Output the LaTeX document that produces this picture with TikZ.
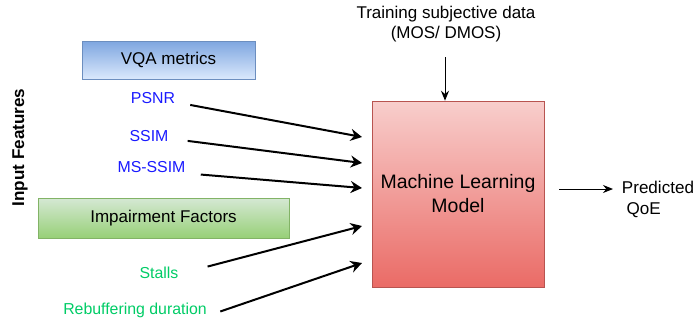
\documentclass[tikz,border=0pt]{standalone}
\usepackage{fontspec}
\setmainfont{Liberation Sans}
\usetikzlibrary{arrows.meta,calc}

\definecolor{vqatop}{HTML}{7EA6E0}
\definecolor{vqabot}{HTML}{DAE8FC}
\definecolor{vqaline}{HTML}{6C8EBF}
\definecolor{imptop}{HTML}{D5E8D4}
\definecolor{impbot}{HTML}{97D077}
\definecolor{impline}{HTML}{82B366}
\definecolor{mltop}{HTML}{F8CECC}
\definecolor{mlbot}{HTML}{EA6B66}
\definecolor{mlline}{HTML}{B85450}
\definecolor{metricblue}{HTML}{1A1AFF}
\definecolor{factorgreen}{HTML}{00CC66}

\begin{document}
\begin{tikzpicture}[x=0.75pt,y=-0.75pt,
	feed/.style={line width=1.5pt,-{Stealth[length=8.5pt,width=9pt]}},
	thin/.style={line width=0.75pt,-{Stealth[length=7.5pt,width=6pt]}},
	metric/.style={text=metricblue,font=\fontsize{11.9}{14}\selectfont},
	factor/.style={text=factorgreen,font=\fontsize{11.9}{14}\selectfont}]
		\useasboundingbox (0,0) rectangle (694,322);
		% boxes
		\node[draw=vqaline,top color=vqatop,bottom color=vqabot,minimum width=129.75pt,minimum height=28.5pt,font=\fontsize{12.75}{15}\selectfont] (vqa) at (168.5,60) {VQA metrics};
		\node[draw=impline,top color=imptop,bottom color=impbot,minimum width=188.25pt,minimum height=30pt,font=\fontsize{12.75}{15}\selectfont] (imp) at (163.5,218) {Impairment Factors};
		\node[draw=mlline,top color=mltop,bottom color=mlbot,minimum width=129pt,minimum height=139.5pt,align=center,font=\fontsize{14.6}{18}\selectfont] (ml) at (458,194) {Machine Learning\\Model};
		\node[rotate=90,font=\bfseries\fontsize{12.8}{15}\selectfont] (feat) at (20,147.5) {Input Features};
		\node[align=center,font=\fontsize{12.75}{15}\selectfont] (train) at (446,24) {Training subjective data\\(MOS/ DMOS)};
		\node[anchor=west,align=left,inner sep=2pt,font=\fontsize{12.8}{15.75}\selectfont] (pred) at (619,199) {Predicted\\\hspace*{3.5pt}QoE};
		% feature labels
		\node[metric] (psnr) at (153,98) {PSNR};
		\node[metric] (ssim) at (149,136) {SSIM};
		\node[metric] (msssim) at (151.5,167) {MS-SSIM};
		\node[factor] (stalls) at (159,273) {Stalls};
		\node[factor] (rebuf) at (135,310.5) {Rebuffering duration};
		% arrow ends
		\coordinate (in1) at (362,137);
		\coordinate (in2) at (362,163);
		\coordinate (in3) at (362,188);
		\coordinate (in4) at (362,226);
		\coordinate (in5) at (362,263);
		\coordinate (mlout) at (559,189);
		\draw[feed,shorten <=8pt] (psnr) -- (in1);
		\draw[feed,shorten <=11pt] (ssim) -- (in2);
		\draw[feed,shorten <=8pt] ([yshift=-5pt]msssim.east) -- (in3);
		\draw[feed,shorten <=19pt] (stalls.east) -- (in4);
		\draw[feed,shorten <=7pt] ([yshift=-3pt]rebuf.east) -- (in5);
		\draw[thin,shorten <=8pt] (train.south -| 445,0) -- (445,0 |- ml.north);
		\draw[thin,shorten >=4.5pt] (mlout) -- (mlout -| pred.west);
\end{tikzpicture}
\end{document}
